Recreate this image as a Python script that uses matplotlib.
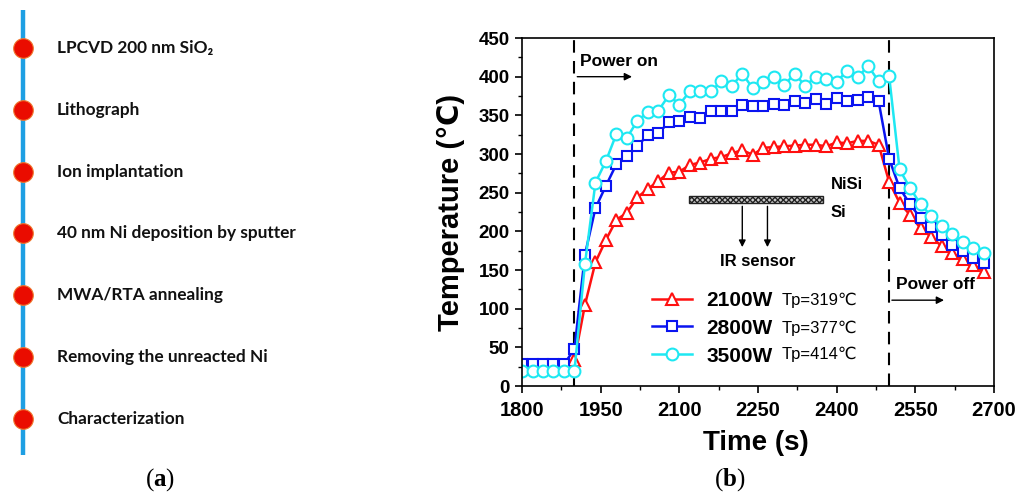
import matplotlib
matplotlib.use("Agg")
import numpy as np
import matplotlib.pyplot as plt
from matplotlib.patches import Rectangle
from matplotlib.ticker import MultipleLocator

plt.rcParams['font.family'] = ['Liberation Sans', 'DejaVu Sans']
plt.rcParams['mathtext.fontset'] = 'custom'
plt.rcParams['mathtext.rm'] = 'Liberation Serif'
plt.rcParams['mathtext.bf'] = 'Liberation Serif:bold'

# process flow, panel (a)
steps = [
    "LPCVD 200 nm SiO\u2082",
    "Lithograph",
    "Ion implantation",
    "40 nm Ni deposition by sputter",
    "MWA/RTA annealing",
    "Removing the unreacted Ni",
    "Characterization",
]

# temperature traces, panel (b)
time_s = [1800, 1820, 1840, 1860, 1880, 1900, 1920, 1940, 1960, 1980,
          2000, 2020, 2040, 2060, 2080, 2100, 2120, 2140, 2160, 2180,
          2200, 2220, 2240, 2260, 2280, 2300, 2320, 2340, 2360, 2380,
          2400, 2420, 2440, 2460, 2480, 2500, 2520, 2540, 2560, 2580,
          2600, 2620, 2640, 2660, 2680]

temp_2100w = [26, 26, 26, 26, 26, 34, 105, 160, 189, 215,
              224, 244, 255, 265, 276, 277, 286, 289, 294, 296,
              301, 305, 299, 308, 309, 310, 311, 312, 312, 310,
              315, 314, 317, 317, 312, 264, 237, 221, 204, 193,
              181, 172, 164, 157, 148]

temp_2800w = [28, 28, 28, 28, 28, 48, 170, 230, 259, 287,
              297, 310, 325, 327, 341, 343, 348, 346, 356, 356,
              356, 363, 362, 362, 365, 363, 368, 366, 371, 365,
              373, 369, 370, 374, 368, 294, 256, 235, 217, 206,
              195, 182, 175, 165, 159]

temp_3500w = [20, 20, 20, 20, 20, 20, 158, 263, 291, 326,
              321, 343, 354, 356, 376, 364, 381, 381, 381, 394,
              388, 404, 385, 393, 399, 389, 404, 388, 400, 397,
              393, 408, 399, 414, 394, 401, 280, 256, 235, 220,
              207, 197, 186, 178, 172]

powers = ["2100W", "2800W", "3500W"]
peak_labels = ["Tp=319\u2103", "Tp=377\u2103", "Tp=414\u2103"]
power_on = 1900
power_off = 2500

fig = plt.figure(figsize=(10.24, 5.01), dpi=100)

# ---- panel (a): flow chart ----
ax_a = fig.add_axes([0, 0, 0.34, 1])
ax_a.set_xlim(0, 1)
ax_a.set_ylim(7.32, -0.77)
ax_a.axis('off')
idx = np.arange(len(steps))
ax_a.plot([0.066, 0.066], [-0.61, 6.58], color='#1e9fe3', lw=3.2,
          solid_capstyle='butt', zorder=1)
ax_a.scatter(np.full(len(steps), 0.066), idx, s=200, color='#ea0c00',
             edgecolor='#f07a30', linewidth=0.8, zorder=2)
for i, s in enumerate(steps):
    ax_a.text(0.164, i, s, va='center', ha='left', fontsize=12.4,
              fontweight='bold', family=['Lato', 'DejaVu Sans'], color='#111111')

fig.text(0.156, 0.042, r"$\mathrm{(}\mathbf{a}\mathrm{)}$", ha='center', va='center', fontsize=18)
fig.text(0.713, 0.042, r"$\mathrm{(}\mathbf{b}\mathrm{)}$", ha='center', va='center', fontsize=18)

# ---- panel (b): temperature vs time ----
ax = fig.add_axes([0.5098, 0.2295, 0.4609, 0.6946])
styles = [
    (temp_2100w, '#ff1010', '^', 9),
    (temp_2800w, '#0a14f0', 's', 7.5),
    (temp_3500w, '#1ee8f2', 'o', 8.5),
]
for (temps, col, mk, ms), lab in zip(styles, powers):
    ax.plot(time_s, temps, color=col, lw=1.8, marker=mk, ms=ms,
            mfc='white', mec=col, mew=1.5, label=lab)

ax.axvline(power_on, color='k', lw=1.5, dashes=(6, 4), zorder=0)
ax.axvline(power_off, color='k', lw=1.5, dashes=(6, 4), zorder=0)

ax.set_xlim(1800, 2700)
ax.set_ylim(0, 450)
ax.xaxis.set_major_locator(MultipleLocator(150))
ax.xaxis.set_minor_locator(MultipleLocator(75))
ax.yaxis.set_major_locator(MultipleLocator(50))
ax.yaxis.set_minor_locator(MultipleLocator(25))
ax.tick_params(which='major', direction='out', length=5, width=1.2, pad=4)
ax.tick_params(which='minor', direction='out', length=3, width=1.0)
ax.tick_params(axis='y', labelsize=13.5)
ax.tick_params(axis='x', labelsize=14.5, pad=6)
for lab in ax.get_xticklabels() + ax.get_yticklabels():
    lab.set_fontweight('bold')
for sp in ax.spines.values():
    sp.set_linewidth(1.2)

ax.set_xlabel("Time (s)", fontsize=20, fontweight='bold')
ax.set_ylabel("Temperature (\u2103)", fontsize=21, fontweight='bold')
ax.xaxis.set_label_coords(0.496, -0.126)
ax.yaxis.set_label_coords(-0.121, 0.5)

# annotations
ax.text(1911, 414, "Power on", fontsize=12.5, fontweight='bold')
ax.annotate('', xy=(2015, 400), xytext=(power_on, 400),
            arrowprops=dict(arrowstyle='-|>', color='k', lw=1, mutation_scale=11))
ax.text(2513, 125, "Power off", fontsize=12.5, fontweight='bold')
ax.annotate('', xy=(2610, 111), xytext=(power_off, 111),
            arrowprops=dict(arrowstyle='-|>', color='k', lw=1, mutation_scale=11))

ax.add_patch(Rectangle((2118, 237), 255, 9, facecolor='#cccccc',
                       edgecolor='#222222', hatch='xxxxxx', lw=1))
for xa in (2220, 2268):
    ax.annotate('', xy=(xa, 176), xytext=(xa, 236),
                arrowprops=dict(arrowstyle='-|>', color='k', lw=1, mutation_scale=10))
ax.text(2388, 261, "NiSi", fontsize=12, fontweight='bold', va='center')
ax.text(2388, 224, "Si", fontsize=12, fontweight='bold', va='center')
ax.text(2250, 161, "IR sensor", fontsize=12, fontweight='bold', va='center', ha='center')

ax.legend(loc='upper left', bbox_to_anchor=(0.2754, 0.273), frameon=False,
          borderpad=0, borderaxespad=0, handlelength=1.9, handletextpad=0.7,
          labelspacing=0.42, prop={'weight': 'bold', 'size': 15})
for lab, yy in zip(peak_labels, (0.247, 0.167, 0.092)):
    ax.text(0.551, yy, lab, transform=ax.transAxes, fontsize=12, va='center')

fig.savefig("out.png", dpi=100)
